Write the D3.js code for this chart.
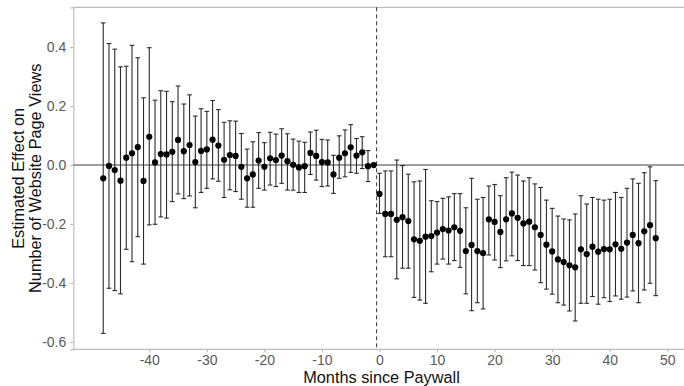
<!DOCTYPE html>
<html><head><meta charset="utf-8">
<script src="https://cdn.jsdelivr.net/npm/d3@7"></script>
<style>body{margin:0;background:#fff}svg{display:block}text{font-family:"Liberation Sans",Arial,sans-serif}</style>
</head><body>
<script>
const months = d3.range(-48, 49);
const estimates = [-0.045,-0.003,-0.017,-0.053,0.025,0.040,0.061,-0.054,0.096,0.009,0.037,0.036,0.045,0.085,0.047,0.068,0.010,0.048,0.053,0.086,0.066,0.018,0.034,0.031,
 -0.006,-0.045,-0.032,0.015,-0.006,0.023,0.017,0.032,0.013,0.001,-0.008,-0.004,0.041,0.031,0.010,0.009,-0.032,0.025,0.040,0.060,0.032,0.043,-0.004,0,
 -0.098,-0.166,-0.166,-0.186,-0.177,-0.190,-0.252,-0.257,-0.243,-0.241,-0.229,-0.217,-0.222,-0.211,-0.223,-0.292,-0.271,-0.292,-0.299,-0.184,-0.193,-0.227,-0.184,-0.164,-0.179,
 -0.198,-0.192,-0.211,-0.237,-0.270,-0.293,-0.320,-0.329,-0.340,-0.347,-0.286,-0.302,-0.277,-0.294,-0.285,-0.286,-0.269,-0.284,-0.263,-0.237,-0.265,-0.225,-0.204,-0.248];
const lower = [-0.571,-0.418,-0.426,-0.437,-0.286,-0.328,-0.243,-0.336,-0.203,-0.201,-0.176,-0.180,-0.124,-0.098,-0.114,-0.105,-0.145,-0.093,-0.079,-0.047,-0.055,-0.110,-0.084,-0.090,
 -0.116,-0.143,-0.143,-0.079,-0.085,-0.068,-0.073,-0.062,-0.085,-0.085,-0.093,-0.093,-0.032,-0.051,-0.073,-0.071,-0.096,-0.045,-0.040,-0.025,-0.028,-0.012,-0.056,null,
 -0.164,-0.311,-0.311,-0.386,-0.350,-0.350,-0.449,-0.458,-0.469,-0.362,-0.336,-0.319,-0.336,-0.324,-0.347,-0.437,-0.494,-0.467,-0.488,-0.305,-0.322,-0.348,-0.325,-0.308,-0.324,
 -0.341,-0.341,-0.356,-0.399,-0.421,-0.438,-0.467,-0.475,-0.495,-0.529,-0.469,-0.469,-0.446,-0.472,-0.450,-0.463,-0.444,-0.455,-0.448,-0.427,-0.467,-0.424,-0.401,-0.443];
const upper = [0.482,0.412,0.393,0.333,0.335,0.406,0.364,0.228,0.398,0.220,0.252,0.250,0.215,0.268,0.207,0.238,0.166,0.191,0.182,0.219,0.188,0.145,0.150,0.149,
 0.107,0.054,0.079,0.110,0.076,0.111,0.105,0.123,0.106,0.088,0.081,0.077,0.112,0.118,0.087,0.085,0.033,0.099,0.119,0.137,0.090,0.096,0.049,null,
 -0.028,-0.020,-0.020,0.017,-0.002,-0.031,-0.057,-0.054,-0.015,-0.121,-0.124,-0.113,-0.108,-0.097,-0.097,-0.145,-0.045,-0.116,-0.110,-0.071,-0.066,-0.104,-0.043,-0.024,-0.034,
 -0.054,-0.043,-0.064,-0.076,-0.119,-0.147,-0.173,-0.183,-0.186,-0.166,-0.104,-0.132,-0.110,-0.116,-0.119,-0.116,-0.093,-0.110,-0.079,-0.047,-0.062,-0.026,-0.006,-0.053];
const xTicks = [-40,-30,-20,-10,0,10,20,30,40,50];
const yTicks = [-0.6,-0.4,-0.2,0.0,0.2,0.4];
const xTitle = "Months since Paywall";
const yTitleLines = ["Estimated Effect on","Number of Website Page Views"];
const paywallLine = -0.5;

const data = months.map((m,i)=>({m, est:estimates[i], lo:lower[i], hi:upper[i]}));
const W=684,H=386;
const L=73.3, R=685.7, T=7.3, B=349.3;
const x = d3.scaleLinear().domain([-53.2,53.2]).range([L,R]);
const y = d3.scaleLinear().domain([-0.625,0.535]).range([B,T]);
const svg = d3.select("body").append("svg").attr("width",W).attr("height",H);

svg.append("line").attr("x1",L).attr("x2",W).attr("y1",T).attr("y2",T).attr("stroke","#bdbdbd").attr("stroke-width",1.2);

const xAxis = svg.append("g").attr("transform",`translate(0,${B})`)
  .call(d3.axisBottom(x).tickValues(xTicks).tickSize(3).tickPadding(3).tickFormat(d3.format("d")));
const yAxis = svg.append("g").attr("transform",`translate(${L},0)`)
  .call(d3.axisLeft(y).tickValues(yTicks).tickSize(3).tickPadding(4).tickFormat(d=>d3.format(".1f")(d)));
xAxis.select(".domain").attr("d",`M${L},0H${W}`);
[xAxis,yAxis].forEach(g=>{
  g.select(".domain").attr("stroke","#bdbdbd").attr("stroke-width",1.2);
  g.selectAll(".tick line").attr("stroke","#bdbdbd").attr("stroke-width",1.2);
  g.selectAll(".tick text").attr("fill","#5a5a5a").attr("font-size",14).attr("font-family","Liberation Sans, Arial, sans-serif");
});
xAxis.selectAll(".tick text").text(d=>String(d).replace("−","-"));
yAxis.selectAll(".tick text").text(d=>d3.format(".1f")(d).replace("−","-"));

svg.append("line").attr("x1",L).attr("x2",W).attr("y1",y(0)).attr("y2",y(0))
  .attr("stroke","#7f7f7f").attr("stroke-width",1.6);
svg.append("line").attr("x1",x(paywallLine)).attr("x2",x(paywallLine)).attr("y1",T).attr("y2",B)
  .attr("stroke","#333").attr("stroke-width",1).attr("stroke-dasharray","4,3");

const eb = data.filter(d=>d.lo!=null);
const g = svg.append("g");
g.selectAll(".v").data(eb).join("line").attr("x1",d=>x(d.m)).attr("x2",d=>x(d.m))
  .attr("y1",d=>y(d.lo)).attr("y2",d=>y(d.hi)).attr("stroke","#2b2b2b").attr("stroke-width",1.1);
const cw = 2.3;
g.selectAll(".ct").data(eb).join("line").attr("x1",d=>x(d.m)-cw).attr("x2",d=>x(d.m)+cw)
  .attr("y1",d=>y(d.hi)).attr("y2",d=>y(d.hi)).attr("stroke","#2b2b2b").attr("stroke-width",1.1);
g.selectAll(".cb").data(eb).join("line").attr("x1",d=>x(d.m)-cw).attr("x2",d=>x(d.m)+cw)
  .attr("y1",d=>y(d.lo)).attr("y2",d=>y(d.lo)).attr("stroke","#2b2b2b").attr("stroke-width",1.1);
g.selectAll("circle").data(data).join("circle").attr("cx",d=>x(d.m)).attr("cy",d=>y(d.est)).attr("r",3.1).attr("fill","#000");

svg.append("text").attr("x",381.5).attr("y",383).attr("text-anchor","middle")
  .attr("font-size",16.3).attr("fill","#111").text(xTitle);
const yt = svg.append("text").attr("transform",`translate(23.5,${(T+B)/2}) rotate(-90)`)
  .attr("text-anchor","middle").attr("font-size",16.3).attr("fill","#111");
yTitleLines.forEach((t,i)=>yt.append("tspan").attr("x",0).attr("dy",i===0?0:17).text(t));
</script>
</body></html>
